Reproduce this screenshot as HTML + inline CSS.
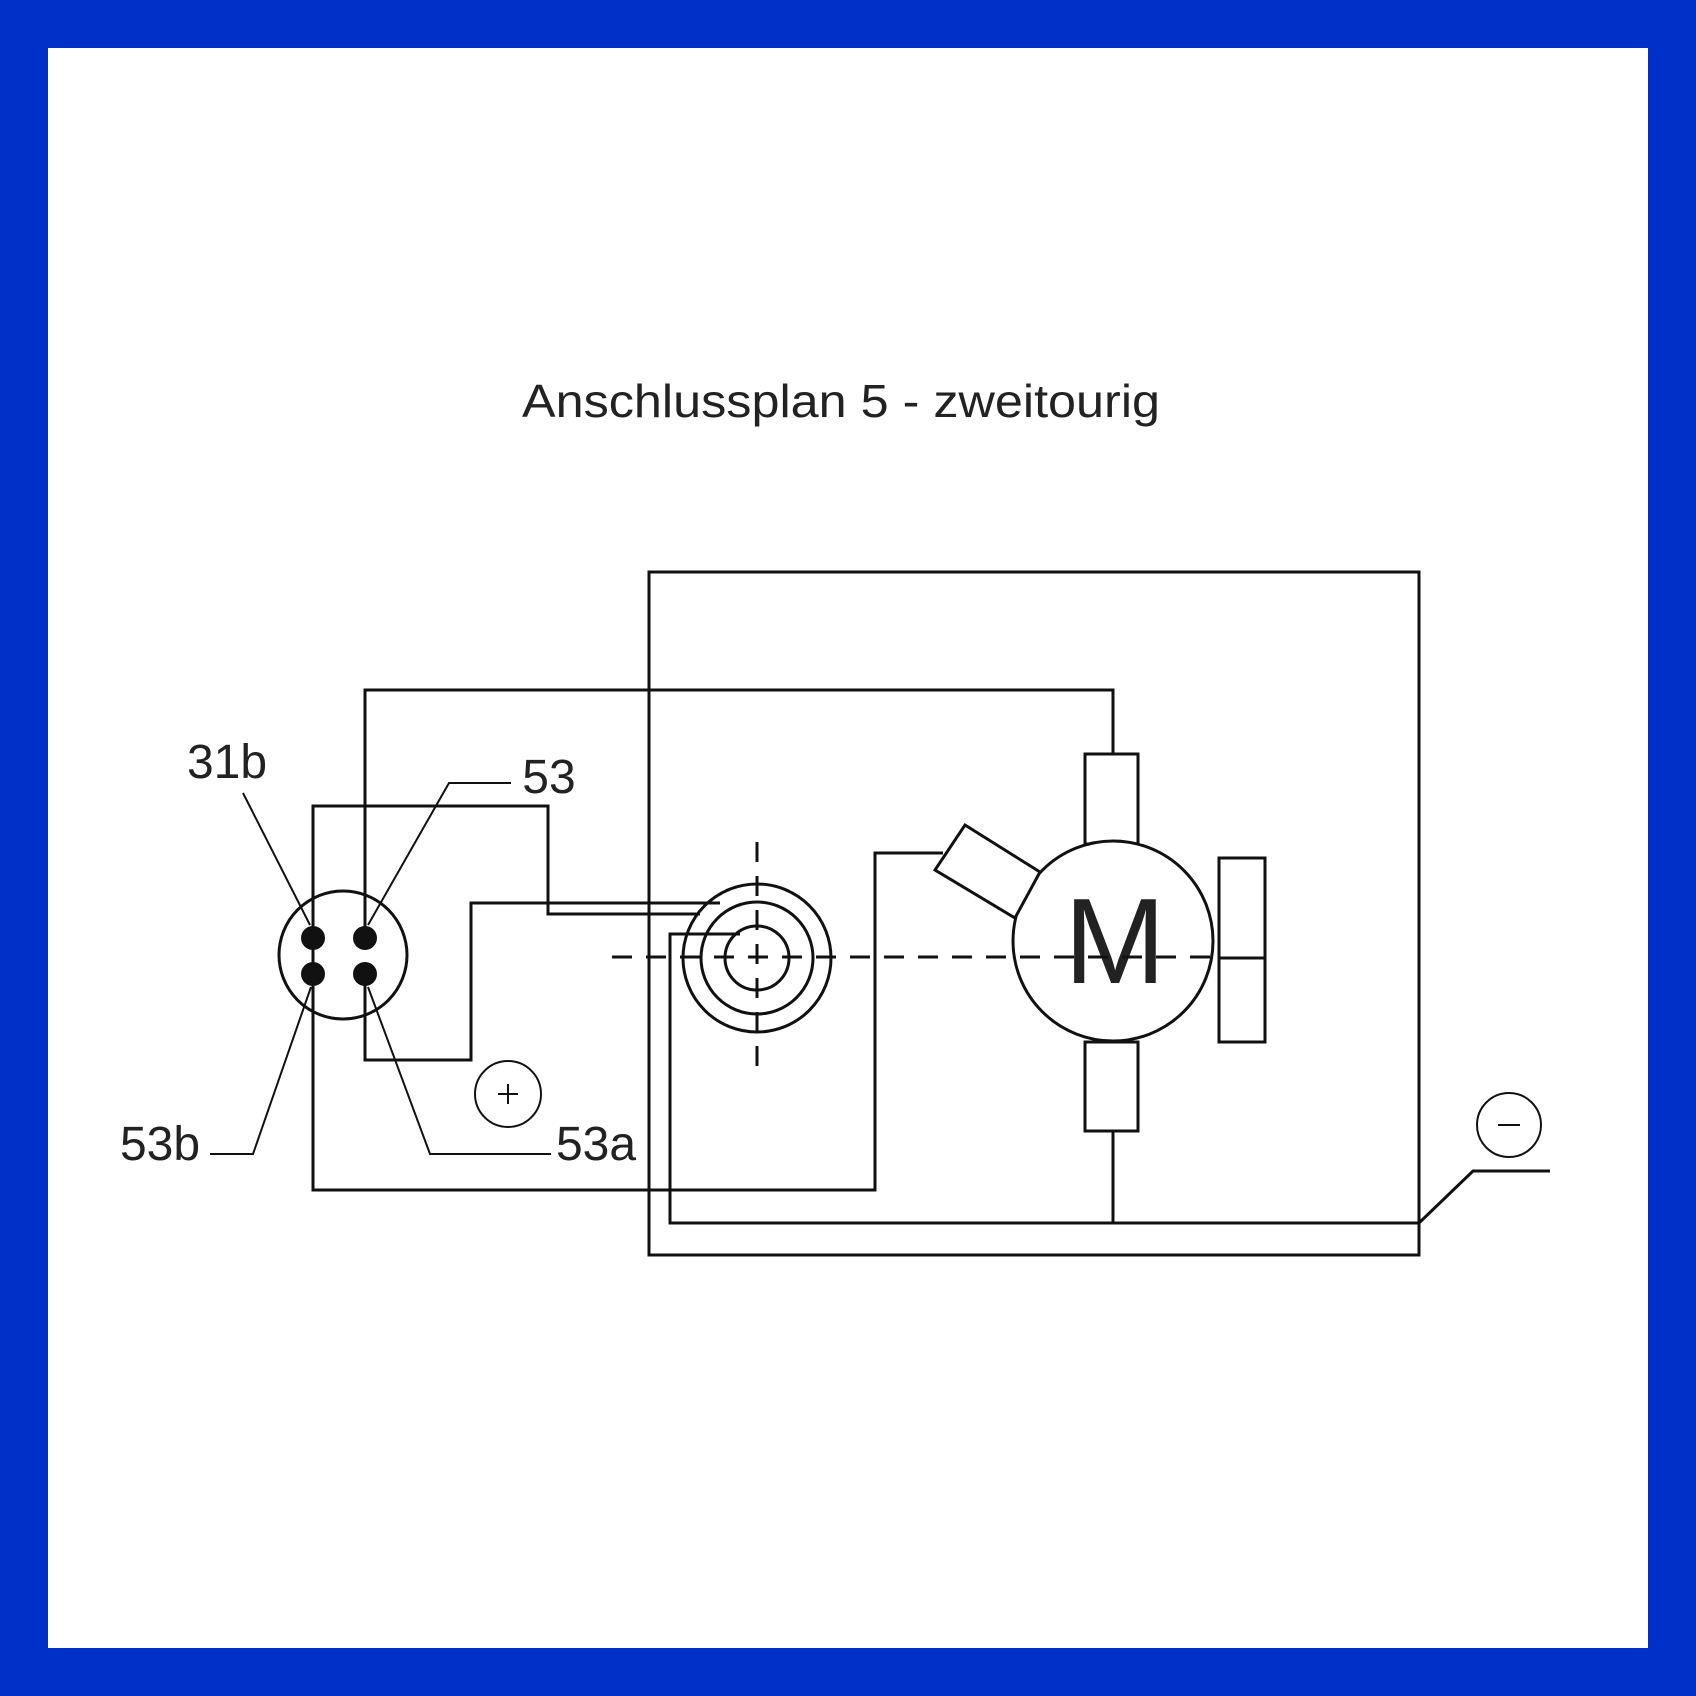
<!DOCTYPE html>
<html><head><meta charset="utf-8"><style>
html,body{margin:0;padding:0;background:#0030c8;}
svg{display:block}
</style></head><body>
<svg width="1696" height="1696" viewBox="0 0 1696 1696" xmlns="http://www.w3.org/2000/svg">
<rect x="0" y="0" width="1696" height="1696" fill="#0030c8"/>
<rect x="48" y="48" width="1600" height="1600" fill="#fff"/>
<g font-family="Liberation Sans, sans-serif" fill="#222">
<text x="841" y="417" font-size="46" text-anchor="middle" textLength="638" lengthAdjust="spacingAndGlyphs">Anschlussplan 5 - zweitourig</text>
<text x="227" y="778" font-size="48" text-anchor="middle">31b</text>
<text x="549" y="793" font-size="48" text-anchor="middle">53</text>
<text x="160" y="1160" font-size="48" text-anchor="middle">53b</text>
<text x="596" y="1160" font-size="48" text-anchor="middle">53a</text>
</g>
<g fill="none" stroke="#111" stroke-width="3">
<rect x="649" y="572" width="770" height="683"/>
<polyline points="365,938 365,690 1113,690 1113,754"/>
<rect x="1085" y="754" width="53" height="90"/>
<rect x="1085" y="1042" width="53" height="89"/>
<line x1="1113" y1="1131" x2="1113" y2="1223"/>
<circle cx="1113" cy="941" r="100" fill="#fff"/>
<rect x="1219" y="858" width="46" height="184"/>
<line x1="1219" y1="958" x2="1265" y2="958"/>
<polygon points="965,825 1040,872 1015,918 935,870" fill="#fff"/>
<polyline points="943,853 875,853 875,1190 313,1190 313,806 548,806 548,914 700,914"/>
<polyline points="365,974 365,1060 471,1060 471,903 720,903"/>
<polyline points="740,934 670,934 670,1223 1419,1223 1473,1171 1550,1171"/>
<circle cx="757" cy="958" r="74"/>
<circle cx="757" cy="958" r="56"/>
<circle cx="757" cy="958" r="32"/>
<circle cx="343" cy="955" r="64"/>
<circle cx="508" cy="1094" r="33" stroke-width="2"/>
<circle cx="1509" cy="1125" r="32" stroke-width="2"/>
</g>
<text x="1115" y="983" font-size="122" text-anchor="middle" font-family="Liberation Sans, sans-serif" fill="#222">M</text>
<g stroke="#111" stroke-width="2" fill="none">
<polyline points="243,793 310,925"/>
<polyline points="511,783 449,783 368,925"/>
<polyline points="210,1154 253,1154 311,987"/>
<polyline points="551,1154 430,1154 368,987"/>
<line x1="498" y1="1094" x2="518" y2="1094"/><line x1="508" y1="1084" x2="508" y2="1104"/>
<line x1="1498" y1="1125" x2="1520" y2="1125"/>
</g>
<g stroke="#111" stroke-width="3" stroke-dasharray="20,14">
<line x1="612" y1="957" x2="1215" y2="957"/>
<line x1="757" y1="842" x2="757" y2="1077"/>
</g>
<g fill="#111">
<circle cx="313" cy="938" r="12"/><circle cx="365" cy="938" r="12"/>
<circle cx="313" cy="974" r="12"/><circle cx="365" cy="974" r="12"/>
</g>
</svg>
</body></html>
